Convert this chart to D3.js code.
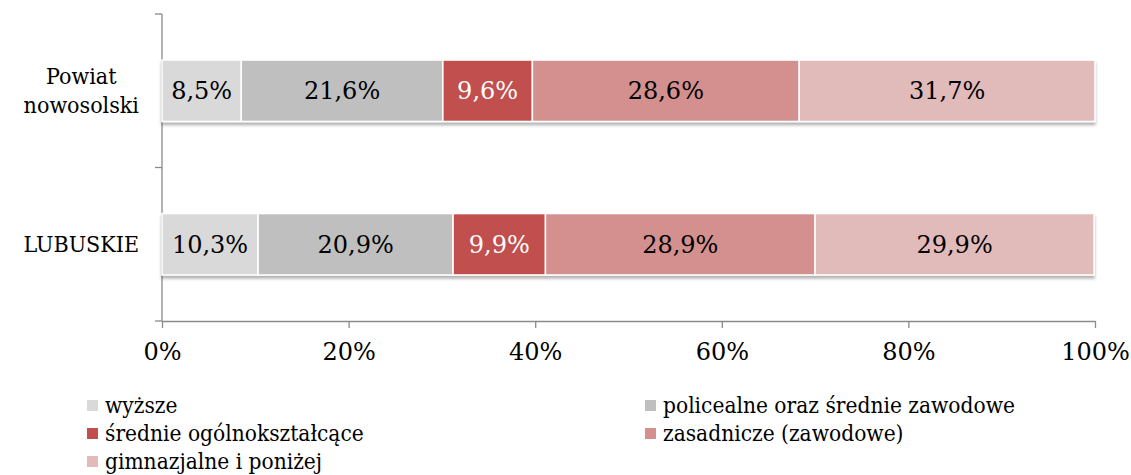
<!DOCTYPE html>
<html>
<head>
<meta charset="utf-8">
<script src="https://cdn.jsdelivr.net/npm/d3@7"></script>
<style>
  body { margin: 0; background: #fff; }
  svg { font-family: "DejaVu Serif", serif; }
  .cond { font-family: "DejaVu Serif Condensed", "DejaVu Serif", serif; font-stretch: condensed; }
</style>
</head>
<body>
<svg id="chart" width="1131" height="475"></svg>
<script>
// categories top to bottom
const categories = ["Powiat\nnowosolski", "LUBUSKIE"];
const seriesNames = ["wyższe", "policealne oraz średnie zawodowe", "średnie ogólnokształcące", "zasadnicze (zawodowe)", "gimnazjalne i poniżej"];
const seriesColors = ["#d9d9d9", "#bfbfbf", "#c0504d", "#d4908f", "#e1baba"];
const labelColors = ["#000", "#000", "#fff", "#000", "#000"];
// values per category, in series order
const powiatValues = [8.5, 21.6, 9.6, 28.6, 31.7];
const lubuskieValues = [10.3, 20.9, 9.9, 28.9, 29.9];
const tickValues = [0, 20, 40, 60, 80, 100];

const valuesByCat = [powiatValues, lubuskieValues];

const svg = d3.select("#chart");

const x = d3.scaleLinear().domain([0, 100]).range([162, 1095]);
const y = d3.scaleBand().domain(categories).range([14, 321]).paddingInner(0.6).paddingOuter(0.3);

const defs = svg.append("defs");
const filt = defs.append("filter").attr("id", "shadow")
  .attr("x", "-5%").attr("y", "-20%").attr("width", "110%").attr("height", "160%");
filt.append("feDropShadow").attr("dx", 0).attr("dy", 3).attr("stdDeviation", 1.6)
  .attr("flood-color", "#000").attr("flood-opacity", 0.3);

// axes
const axisColor = "#8a8a8a";
svg.append("line").attr("x1", x(0)).attr("x2", x(0)).attr("y1", 14).attr("y2", 321)
  .attr("stroke", axisColor).attr("stroke-width", 1.3);
[14, y.step() + 14, 321].forEach(function (v) {
  svg.append("line").attr("x1", x(0) - 7).attr("x2", x(0)).attr("y1", v).attr("y2", v)
    .attr("stroke", axisColor).attr("stroke-width", 1.3);
});

const xAxis = svg.append("g")
  .attr("transform", "translate(0,321)")
  .call(d3.axisBottom(x).tickValues(tickValues).tickSize(7).tickSizeOuter(0)
    .tickFormat(d => d + "%"));
xAxis.select(".domain").attr("stroke", axisColor).attr("stroke-width", 1.3);
xAxis.selectAll(".tick line").attr("stroke", axisColor).attr("stroke-width", 1.3);
xAxis.selectAll("text").attr("font-family", "DejaVu Serif").attr("font-size", 24)
  .attr("fill", "#000").attr("y", 31).attr("dy", "0.35em");

// stacked bars
categories.forEach(function (cat, ci) {
  const vals = valuesByCat[ci];
  let acc = 0;
  const segs = vals.map(function (v, si) {
    const s = { start: acc, end: acc + v, v: v, si: si };
    acc += v;
    return s;
  });
  const g = svg.append("g");
  g.append("g").attr("filter", "url(#shadow)")
    .selectAll("rect").data(segs).enter().append("rect")
    .attr("x", d => x(d.start))
    .attr("y", y(cat))
    .attr("width", d => x(Math.min(d.end, 100)) - x(d.start))
    .attr("height", y.bandwidth())
    .attr("fill", d => seriesColors[d.si])
    .attr("stroke", "#fff").attr("stroke-width", 1.5);
  g.selectAll("text").data(segs).enter().append("text")
    .attr("x", d => (x(d.start) + x(Math.min(d.end, 100))) / 2)
    .attr("y", y(cat) + y.bandwidth() / 2)
    .attr("dy", "0.35em")
    .attr("text-anchor", "middle")
    .attr("font-size", 24)
    .attr("fill", d => labelColors[d.si])
    .text(d => d.v.toFixed(1).replace(".", ",") + "%");
});

// category labels
categories.forEach(function (cat) {
  const lines = cat.split("\n");
  const t = svg.append("g").attr("class", "cond");
  const texts = lines.map(function (ln) {
    return t.append("text").attr("font-size", 23).attr("fill", "#000").text(ln);
  });
  const widths = texts.map(tx => tx.node().getComputedTextLength());
  const maxW = d3.max(widths);
  const right = 139;
  const lh = 29;
  const cy = y(cat) + y.bandwidth() / 2;
  texts.forEach(function (tx, i) {
    tx.attr("text-anchor", "middle")
      .attr("x", right - maxW / 2)
      .attr("y", cy + (i - (lines.length - 1) / 2) * lh)
      .attr("dy", "0.35em");
  });
});

// legend
const legendPos = [[87, 405], [645, 405], [87, 433], [645, 433], [87, 461]];
seriesNames.forEach(function (name, i) {
  const p = legendPos[i];
  svg.append("rect").attr("x", p[0]).attr("y", p[1] - 5).attr("width", 11).attr("height", 11)
    .attr("fill", seriesColors[i]);
  svg.append("text").attr("class", "cond").attr("x", p[0] + 18).attr("y", p[1]).attr("dy", "0.35em")
    .attr("font-size", 22.5).attr("fill", "#000").text(name);
});
</script>
</body>
</html>
